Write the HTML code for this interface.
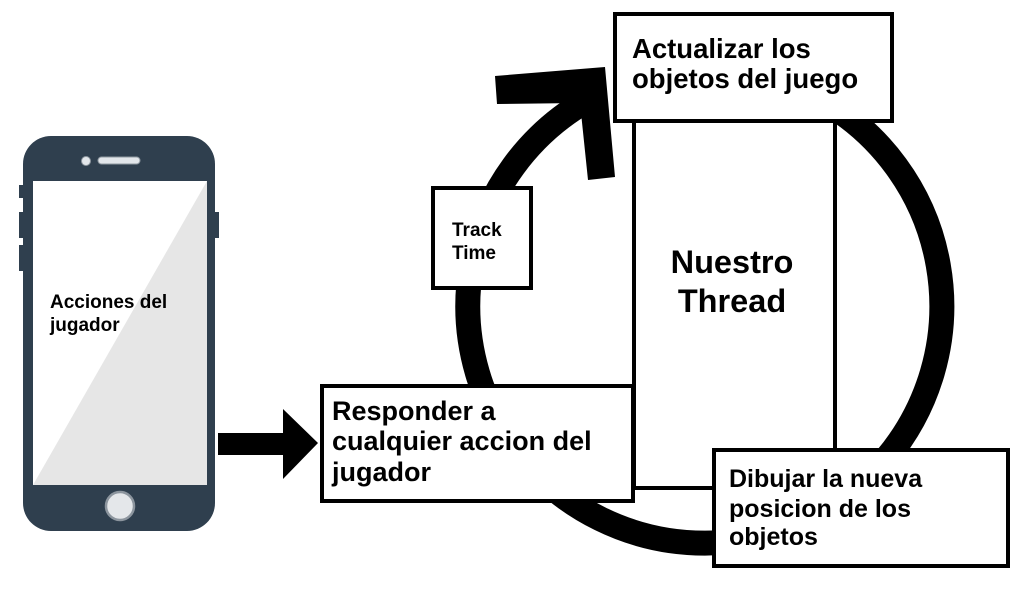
<!DOCTYPE html>
<html>
<head>
<meta charset="utf-8">
<style>
html,body{margin:0;padding:0;background:#fff;}
svg{display:block;}
text{font-family:"Liberation Sans",Arial,sans-serif;font-weight:bold;fill:#000;}
</style>
</head>
<body>
<svg width="1024" height="600" viewBox="0 0 1024 600" xmlns="http://www.w3.org/2000/svg">
  <rect x="0" y="0" width="1024" height="600" fill="#fff"/>

  <!-- Phone -->
  <rect x="19" y="185" width="6" height="13" fill="#2f3f4e"/>
  <rect x="19" y="212" width="6" height="26" fill="#2f3f4e"/>
  <rect x="19" y="245" width="6" height="26" fill="#2f3f4e"/>
  <rect x="213" y="212" width="6" height="26" fill="#2f3f4e"/>
  <rect x="23" y="136" width="192" height="395" rx="28" ry="28" fill="#2f3f4e"/>
  <rect x="33" y="181" width="174" height="304" fill="#ffffff"/>
  <polygon points="207,181 207,485 33,485" fill="#e6e6e6"/>
  <circle cx="86" cy="161" r="4.5" fill="#e2e6ea" stroke="#8f98a0" stroke-width="1"/>
  <rect x="98" y="157" width="42" height="7" rx="3.5" ry="3.5" fill="#e2e6ea" stroke="#8f98a0" stroke-width="1"/>
  <circle cx="120" cy="506" r="14" fill="#e4e7ea" stroke="#8c959e" stroke-width="2.5"/>
  <text x="50" y="308" font-size="19">Acciones del</text>
  <text x="50" y="331" font-size="19">jugador</text>

  <!-- Arrow phone -> responder -->
  <polygon points="218,433 283,433 283,409 318,443 283,479 283,455 218,455" fill="#000"/>

  <!-- Ring -->
  <path d="M 823.5 101 A 237 237 0 1 1 585.8 101.2" fill="none" stroke="#000" stroke-width="25"/>
  <!-- Chevron arrowhead -->
  <polygon points="495,76 605,67 615,177 588,180 580,103 497,104" fill="#000"/>

  <!-- Thread box -->
  <rect x="634" y="100" width="201" height="388" fill="#fff" stroke="#000" stroke-width="4"/>
  <text x="732" y="273" font-size="32.5" text-anchor="middle">Nuestro</text>
  <text x="732" y="312" font-size="32.5" text-anchor="middle">Thread</text>

  <!-- Actualizar box -->
  <rect x="615" y="14" width="277" height="107" fill="#fff" stroke="#000" stroke-width="4"/>
  <text x="632" y="58" font-size="27.5">Actualizar los</text>
  <text x="632" y="88" font-size="27.5">objetos del juego</text>

  <!-- Track Time box -->
  <rect x="433" y="188" width="98" height="100" fill="#fff" stroke="#000" stroke-width="4"/>
  <text x="452" y="236" font-size="19">Track</text>
  <text x="452" y="259" font-size="19">Time</text>

  <!-- Responder box -->
  <rect x="322" y="386" width="311" height="115" fill="#fff" stroke="#000" stroke-width="4"/>
  <text x="332" y="420" font-size="27">Responder a</text>
  <text x="332" y="450" font-size="27">cualquier accion del</text>
  <text x="332" y="481" font-size="27">jugador</text>

  <!-- Dibujar box -->
  <rect x="714" y="450" width="294" height="116" fill="#fff" stroke="#000" stroke-width="4"/>
  <text x="729" y="487" font-size="25">Dibujar la nueva</text>
  <text x="729" y="517" font-size="25">posicion de los</text>
  <text x="729" y="545" font-size="25">objetos</text>
</svg>
</body>
</html>
